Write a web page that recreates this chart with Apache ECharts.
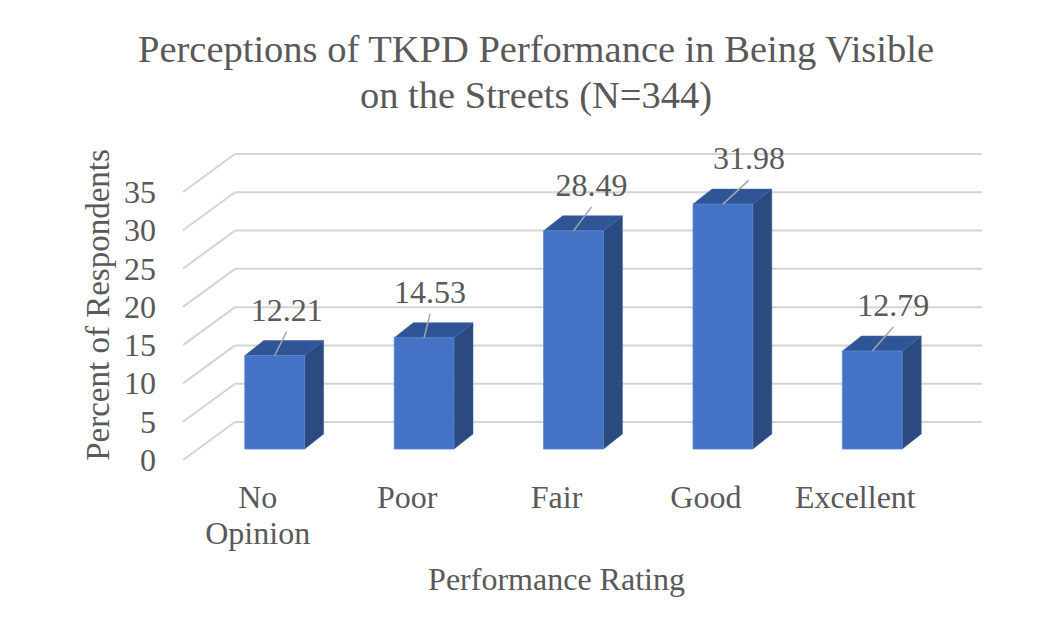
<!DOCTYPE html>
<html>
<head>
<meta charset="utf-8">
<script src="https://cdn.jsdelivr.net/npm/echarts@6/dist/echarts.min.js"></script>
<style>
  html, body { margin: 0; padding: 0; background: #fff; }
  #chart { width: 1045px; height: 633px; }
</style>
</head>
<body>
<div id="chart"></div>
<script>
// data
var categories = ['No Opinion', 'Poor', 'Fair', 'Good', 'Excellent'];
var percents = [12.21, 14.53, 28.49, 31.98, 12.79];
var yTicks = [0, 5, 10, 15, 20, 25, 30, 35];

var FONT = "'Liberation Serif', 'Times New Roman', serif";
var TXT = '#595959';

// oblique 3D look: depth of the floor and where the bars sit in it
var DEPTH = [52, -38];     // floor front edge -> back wall
var BAR_FRONT = [17, -11]; // floor front edge -> bar front face
var BAR_DEPTH = [19, -15]; // bar front face -> bar back face
// data labels were dragged a little in the original, leader ends move with them
var labelNudge = [12, 6, 18, 26, 21];

var chart = echarts.init(document.getElementById('chart'), null, { renderer: 'svg' });

// back wall gridlines + side wall diagonals
function renderWalls(params, api) {
        var cs = params.coordSys;
        var y = api.coord([0, api.value(0)])[1];
        var style = { stroke: '#d4d4d4', lineWidth: 2 };
        return {
                type: 'group',
                children: [
                        { type: 'line', shape: { x1: cs.x, y1: y, x2: cs.x + DEPTH[0], y2: y + DEPTH[1] }, style: style },
                        { type: 'line', shape: { x1: cs.x + DEPTH[0], y1: y + DEPTH[1], x2: cs.x + cs.width + DEPTH[0], y2: y + DEPTH[1] }, style: style }
                ]
        };
}

// 3D-looking bar: front, top and right side, plus its data label
function renderBar(params, api) {
        var i = api.value(0), v = api.value(1);
        var base = api.coord([i, 0]);
        var top = api.coord([i, v]);
        var w = api.size([1, 0])[0] * 0.4;
        var cx = base[0] + BAR_FRONT[0];
        var l = cx - w / 2, r = cx + w / 2;
        var ft = top[1] + BAR_FRONT[1], fb = base[1] + BAR_FRONT[1];
        var bx = BAR_DEPTH[0], by = BAR_DEPTH[1];
        var lx = cx + labelNudge[i];
        return {
                type: 'group',
                children: [
                        { type: 'polygon', shape: { points: [[r, ft], [r + bx, ft + by], [r + bx, fb + by], [r, fb]] },
                          style: { fill: '#2b4a7f', stroke: '#3a5a92', lineWidth: 0.6 } },
                        { type: 'polygon', shape: { points: [[l, ft], [l + bx, ft + by], [r + bx, ft + by], [r, ft]] },
                          style: { fill: '#2f5597', stroke: '#4068aa', lineWidth: 0.6 } },
                        { type: 'rect', shape: { x: l, y: ft, width: w, height: fb - ft },
                          style: { fill: '#4472c4', stroke: '#5a85cf', lineWidth: 0.8 } },
                        { type: 'line', shape: { x1: cx, y1: ft, x2: lx, y2: ft - 24 },
                          style: { stroke: '#a6a6a6', lineWidth: 1.5 } },
                        { type: 'text', x: lx, y: ft - 46,
                          style: { text: v.toFixed(2), fill: TXT, font: '32px ' + FONT, align: 'center', verticalAlign: 'middle' } }
                ]
        };
}

var option = {
        backgroundColor: '#fff',
        animation: false,
        title: {
                text: 'Perceptions of TKPD Performance in Being Visible\non the Streets (N=344)',
                left: 531,
                top: 21,
                textAlign: 'center',
                textStyle: { fontFamily: FONT, fontSize: 38.5, fontWeight: 'normal', color: TXT, lineHeight: 46 }
        },
        graphic: [
                {
                        type: 'text', x: 98, y: 305, rotation: Math.PI / 2,
                        style: { text: 'Percent of Respondents', font: '33px ' + FONT, fill: TXT, align: 'center', verticalAlign: 'middle' }
                }
        ],
        grid: { left: 183, right: 115, top: 192, bottom: 173 },
        xAxis: {
                type: 'category', data: categories,
                axisLine: { show: false }, axisTick: { show: false },
                axisLabel: {
                        interval: 0, margin: 19,
                        fontFamily: FONT, fontSize: 32, lineHeight: 36, color: TXT,
                        formatter: function (s) { return s.replace(' ', '\n'); }
                },
                name: 'Performance Rating',
                nameLocation: 'middle',
                nameGap: 103,
                nameTextStyle: { fontFamily: FONT, fontSize: 32, color: TXT }
        },
        yAxis: {
                type: 'value', min: 0, max: 35, interval: 5,
                axisLine: { show: false }, axisTick: { show: false }, splitLine: { show: false },
                axisLabel: { margin: 27, fontFamily: FONT, fontSize: 32, color: TXT }
        },
        series: [
                {
                        type: 'custom', name: 'walls',
                        data: yTicks.map(function (v) { return [v]; }),
                        encode: { y: 0 },
                        renderItem: renderWalls,
                        silent: true, z: 1
                },
                {
                        type: 'custom', name: 'Percent',
                        data: percents.map(function (v, i) { return [i, v]; }),
                        encode: { x: 0, y: 1 },
                        renderItem: renderBar,
                        z: 2
                }
        ]
};

chart.setOption(option);
</script>
</body>
</html>
